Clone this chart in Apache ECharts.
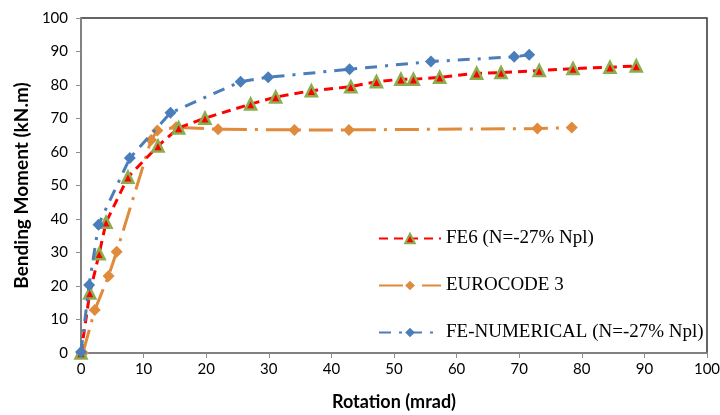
<!DOCTYPE html>
<html><head><meta charset="utf-8">
<script src="https://cdn.jsdelivr.net/npm/echarts@6/dist/echarts.min.js"></script>
<style>html,body{margin:0;padding:0;background:#fff}#c{width:720px;height:415px}</style>
</head><body><div id="c"></div>
<script>
const xTicks = [0,10,20,30,40,50,60,70,80,90,100];
const yTicks = [0,10,20,30,40,50,60,70,80,90,100];
const seriesNames = ['FE6 (N=-27% Npl)', 'EUROCODE 3', 'FE-NUMERICAL (N=-27% Npl)'];
const fe6X = [0, 1.4, 2.9, 4.0, 7.5, 12.3, 15.6, 19.8, 27.1, 31.1, 36.8, 43.1, 47.2, 51.1, 53.1, 57.3, 63.2, 67.1, 73.2, 78.6, 84.5, 88.7];
const fe6Y = [0, 17.9, 29.6, 39, 52.5, 61.8, 67.2, 70.1, 74.3, 76.4, 78.3, 79.5, 81, 81.7, 81.7, 82.3, 83.5, 83.7, 84.3, 84.9, 85.3, 85.7];
const ec3X = [0.3, 2.2, 4.4, 5.7, 11.2, 12.2, 15.2, 21.9, 34.1, 42.8, 72.9, 78.4];
const ec3Y = [0, 12.8, 23, 30.2, 63.6, 66.4, 67.4, 66.8, 66.6, 66.6, 67.0, 67.3];
const numX = [0, 1.3, 2.8, 7.8, 14.3, 25.5, 29.9, 42.9, 55.9, 69.2, 71.6];
const numY = [0.3, 20.3, 38.3, 58.2, 71.7, 81, 82.3, 84.7, 87, 88.4, 89];

const zip = (a, b) => a.map((v, i) => [v, b[i]]);
const chart = echarts.init(document.getElementById('c'));
const axisFont = {fontFamily: 'Lato', fontSize: 15, color: '#000'};
chart.setOption({
  animation: false,
  grid: {left: 81, right: 13, top: 18, bottom: 62, show: true, borderColor: '#333', borderWidth: 1.5,
         containLabel: false, outerBoundsMode: 'none'},
  legend: {
    orient: 'vertical', left: 373, top: 224, itemGap: 28, itemWidth: 62, itemHeight: 12,
    textStyle: {fontFamily: 'Liberation Serif', fontSize: 19, color: '#000'},
    data: seriesNames
  },
  xAxis: {
    type: 'value', min: 0, max: 100, interval: 10,
    name: 'Rotation (mrad)', nameLocation: 'middle', nameGap: 40,
    nameTextStyle: {fontFamily: 'Lato', fontSize: 18, fontWeight: 'bold', color: '#000'},
    axisLine: {lineStyle: {color: '#8c8c8c', width: 1.5}},
    axisTick: {show: true, length: 5, lineStyle: {color: '#8c8c8c'}},
    axisLabel: Object.assign({margin: 9}, axisFont),
    splitLine: {show: false}
  },
  yAxis: {
    type: 'value', min: 0, max: 100, interval: 10,
    name: 'Bending Moment (kN.m)', nameLocation: 'middle', nameGap: 48,
    nameTextStyle: {fontFamily: 'Lato', fontSize: 19, fontWeight: 'bold', color: '#000'},
    axisLine: {show: true, lineStyle: {color: '#8c8c8c', width: 1.5}},
    axisTick: {show: true, length: 5, lineStyle: {color: '#8c8c8c'}},
    axisLabel: Object.assign({margin: 13}, axisFont),
    splitLine: {show: false}
  },
  series: [
    {
      name: seriesNames[0], type: 'line', data: zip(fe6X, fe6Y), z: 3,
      symbol: 'triangle', symbolSize: 11,
      lineStyle: {color: '#FF0000', width: 3, type: [9, 6]},
      itemStyle: {color: '#FF0000', borderColor: '#8AAE4E', borderWidth: 2.5}
    },
    {
      name: seriesNames[1], type: 'line', data: zip(ec3X, ec3Y), z: 2,
      symbol: 'diamond', symbolSize: 12,
      lineStyle: {color: '#E08A3C', width: 3, type: [24, 8, 3, 8]},
      itemStyle: {color: '#E08A3C'}
    },
    {
      name: seriesNames[2], type: 'line', data: zip(numX, numY), z: 4,
      symbol: 'diamond', symbolSize: 12,
      lineStyle: {color: '#4A7EBB', width: 3, type: [12, 8, 3, 8]},
      itemStyle: {color: '#4A7EBB'}
    }
  ]
});
</script></body></html>
